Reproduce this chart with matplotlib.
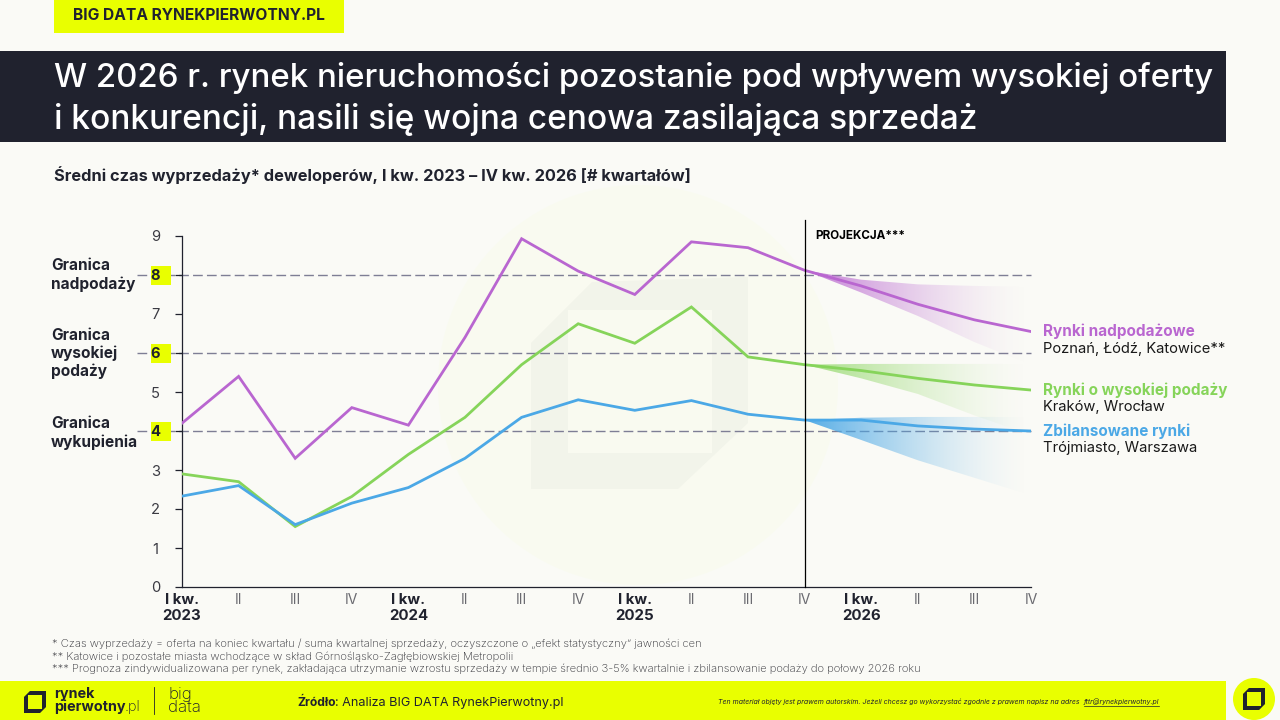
import numpy as np
import matplotlib
matplotlib.use('Agg')
import matplotlib.pyplot as plt
from matplotlib.patches import Polygon, Rectangle, Circle

plt.rcParams['font.family'] = ['Inter', 'DejaVu Sans']

kwartaly = ['I kw.\n2023', 'II', 'III', 'IV', 'I kw.\n2024', 'II', 'III', 'IV',
            'I kw.\n2025', 'II', 'III', 'IV', 'I kw.\n2026', 'II', 'III', 'IV']

nadpodazowe = [4.2, 5.4, 3.3, 4.6, 4.15, 6.4, 8.93, 8.1, 7.5, 8.85, 8.7, 8.12, 7.72, 7.25, 6.85, 6.55]
wysoka_podaz = [2.9, 2.7, 1.55, 2.32, 3.4, 4.35, 5.7, 6.75, 6.25, 7.18, 5.9, 5.7, 5.55, 5.35, 5.18, 5.05]
zbilansowane = [2.33, 2.6, 1.6, 2.15, 2.55, 3.3, 4.35, 4.8, 4.53, 4.78, 4.43, 4.28, 4.28, 4.13, 4.05, 4.0]

# widełki projekcji, IV kw. 2025 - IV kw. 2026
x_proj = [11, 12, 13, 14, 15]
nadpodazowe_gora = [8.12, 7.88, 7.76, 7.72, 7.7]
nadpodazowe_dol = [8.12, 7.55, 6.95, 6.28, 5.7]
wysoka_gora = [5.7, 5.72, 5.72, 5.72, 5.72]
wysoka_dol = [5.7, 5.35, 4.95, 4.4, 3.9]
zbilansowane_gora = [4.28, 4.34, 4.36, 4.36, 4.36]
zbilansowane_dol = [4.28, 3.77, 3.25, 2.8, 2.35]

granice = [8, 6, 4]

TLO = '#FAFAF6'
ZOLTY = '#E9FF00'
CIEMNY = '#20222E'
FIOLET = '#B966D0'
ZIELONY = '#86D45A'
NIEBIESKI = '#4BA8E6'
SZARY = '#3A3A42'

fig = plt.figure(figsize=(12.8, 7.2), dpi=100, facecolor=TLO)

# warstwa tla w pikselach
bg = fig.add_axes([0, 0, 1, 1], zorder=0)
bg.set_xlim(0, 1280)
bg.set_ylim(720, 0)
bg.axis('off')


def logo(ax, x0, y0, w, kolor, srodek, zorder=2):
    # kwadrat ze scietymi rogami
    c = w * 0.27
    t = w * 0.2
    ax.add_patch(Polygon([(x0, y0 + c), (x0 + c, y0), (x0 + w, y0), (x0 + w, y0 + w - c),
                          (x0 + w - c, y0 + w), (x0, y0 + w)], fc=kolor, ec='none', zorder=zorder))
    ax.add_patch(Rectangle((x0 + t, y0 + t), w - 2 * t, w - 2 * t, fc=srodek, ec='none', zorder=zorder))


# znak wodny
bg.add_patch(Circle((638, 385), 200, fc='#F9FAF0', ec='none', zorder=1))
bg.add_patch(Polygon([(531, 343), (592, 282), (748, 277), (748, 423), (678, 489), (531, 489)],
                     fc='#F2F4EA', ec='none', zorder=2))
bg.add_patch(Rectangle((568, 310), 144, 143, fc='#F9FAF0', ec='none', zorder=3))

# naglowek
bg.add_patch(Rectangle((54, 0), 290, 33, fc=ZOLTY, ec='none'))
bg.text(73, 16, 'BIG DATA RYNEKPIERWOTNY.PL', fontsize=11.2, fontweight='bold', color=CIEMNY, va='center')
bg.add_patch(Rectangle((0, 51), 1226, 91, fc=CIEMNY, ec='none'))
bg.text(54, 78, 'W 2026 r. rynek nieruchomości pozostanie pod wpływem wysokiej oferty',
        fontsize=23.8, fontweight='medium', color='white', va='center')
bg.text(54, 119, 'i konkurencji, nasili się wojna cenowa zasilająca sprzedaż',
        fontsize=24.1, fontweight='medium', color='white', va='center')
bg.text(54, 175, 'Średni czas wyprzedaży* deweloperów, I kw. 2023 – IV kw. 2026 [# kwartałów]',
        fontsize=11.8, fontweight='bold', color=CIEMNY, va='center')

# opisy granic po lewej
for y, tekst in [(266, 'Granica'), (284, 'nadpodaży'),
                 (335, 'Granica'), (353, 'wysokiej'), (371, 'podaży'),
                 (424, 'Granica'), (442, 'wykupienia')]:
    bg.text(51, y, tekst, fontsize=11.1, fontweight='bold', color=CIEMNY, va='center')

# przypisy
przypisy = ['* Czas wyprzedaży = oferta na koniec kwartału / suma kwartalnej sprzedaży, oczyszczone o „efekt statystyczny” jawności cen',
            '** Katowice i pozostałe miasta wchodzące w skład Górnośląsko-Zagłębiowskiej Metropolii',
            '*** Prognoza zindywidualizowana per rynek, zakładająca utrzymanie wzrostu sprzedaży w tempie średnio 3-5% kwartalnie i zbilansowanie podaży do połowy 2026 roku']
for y, tekst in zip([644, 657, 669], przypisy):
    bg.text(52, y, tekst, fontsize=8.1, fontweight='light', color='#2E2E34', va='center')

# stopka
bg.add_patch(Rectangle((0, 681), 1226, 39, fc=ZOLTY, ec='none'))
logo(bg, 24, 691, 22, CIEMNY, ZOLTY)
bg.text(54, 694, 'rynek', fontsize=10.4, fontweight='bold', color=CIEMNY, va='center')
bg.text(54, 707, 'pierwotny', fontsize=10.4, fontweight='bold', color=CIEMNY, va='center')
bg.text(125, 707, '.pl', fontsize=10.4, fontweight='light', color=CIEMNY, va='center')
bg.plot([154, 154], [687, 714], color=CIEMNY, lw=0.6)
bg.text(168, 694, 'big', fontsize=12.2, fontweight='light', color=CIEMNY, va='center')
bg.text(168, 707, 'data', fontsize=12.2, fontweight='light', color=CIEMNY, va='center')
bg.text(297, 703, 'Źródło', fontsize=8.7, fontweight='bold', color=CIEMNY, va='center')
bg.text(335, 703, ': Analiza BIG DATA RynekPierwotny.pl', fontsize=9.1, color=CIEMNY, va='center')
bg.text(718, 702, 'Ten materiał objęty jest prawem autorskim. Jeżeli chcesz go wykorzystać zgodnie z prawem napisz na adres',
        fontsize=5.0, style='italic', color=CIEMNY, va='center')
bg.text(1084, 702, 'fttr@rynekpierwotny.pl', fontsize=5.0, style='italic', color=CIEMNY, va='center')
bg.plot([1084, 1159], [705.5, 705.5], color=CIEMNY, lw=0.5)
bg.add_patch(Circle((1254, 699), 21, fc=ZOLTY, ec='none'))
logo(bg, 1243, 688, 22, CIEMNY, ZOLTY, zorder=3)

# wykres glowny
ax = fig.add_axes([182 / 1280, 1 - 587 / 720, (1031 - 182) / 1280, (587 - 236) / 720], zorder=1)
ax.patch.set_alpha(0)
x = np.arange(len(kwartaly))


def widelki(gora, dol, kolor, alfa):
    # gradient zanikajacy w prawo, przyciety do obszaru widelek
    rgba = np.ones((2, 200, 4))
    rgba[..., :3] = matplotlib.colors.to_rgb(kolor)
    rgba[..., 3] = alfa * np.linspace(1, 0, 200) ** 1.6
    im = ax.imshow(rgba, extent=(11, 15, 0, 9), aspect='auto', origin='lower', zorder=2)
    poly = ax.fill_between(x_proj, dol, gora, color='none')
    im.set_clip_path(poly.get_paths()[0], transform=ax.transData)


widelki(nadpodazowe_gora, nadpodazowe_dol, FIOLET, 0.85)
widelki(wysoka_gora, wysoka_dol, ZIELONY, 0.75)
widelki(zbilansowane_gora, zbilansowane_dol, NIEBIESKI, 0.95)
ax.set_xlim(0, 15)
ax.set_ylim(0, 9)

for g in granice:
    ax.plot([-0.8, 15], [g, g], color='#7E7E95', lw=1.0, dashes=(7, 3), clip_on=False, zorder=0.5)
    # zolte tlo pod etykieta granicy
    ax.add_patch(Rectangle((-0.55, g - 0.25), 0.36, 0.49, fc=ZOLTY, ec='none', clip_on=False, zorder=1))

ax.plot(x, nadpodazowe, color=FIOLET, lw=2.0, zorder=4, solid_joinstyle='miter')
ax.plot(x, wysoka_podaz, color=ZIELONY, lw=2.0, zorder=4, solid_joinstyle='miter')
ax.plot(x, zbilansowane, color=NIEBIESKI, lw=2.0, zorder=4, solid_joinstyle='miter')

ax.plot([11, 11], [0, 9.41], color='black', lw=0.9, clip_on=False, zorder=5)
ax.text(11.18, 9.01, 'PROJEKCJA***', fontsize=8.4, fontweight='bold', color='black', va='center')

for s in ['top', 'right']:
    ax.spines[s].set_visible(False)
for s in ['left', 'bottom']:
    ax.spines[s].set_linewidth(0.9)
    ax.spines[s].set_color(CIEMNY)

ax.set_xticks(x)
ax.set_xticklabels(kwartaly, fontsize=10.8, linespacing=1.2)
ax.tick_params(axis='x', length=0, pad=4)
for lab in ax.get_xticklabels():
    if 'kw' in lab.get_text():
        lab.set_fontweight('bold')
        lab.set_color(CIEMNY)
    else:
        lab.set_color('#6A6A70')
        lab.set_fontsize(10)

ax.set_yticks(range(10))
ax.tick_params(axis='y', length=5, width=0.9, color=CIEMNY, pad=14, labelsize=10.6, labelcolor=SZARY)
for lab in ax.get_yticklabels():
    lab.set_ha('center')
    if int(lab.get_text()) in granice:
        lab.set_fontweight('bold')
        lab.set_color(CIEMNY)

# opisy serii
for y, nazwa, kolor, miasta in [(nadpodazowe[-1], 'Rynki nadpodażowe', FIOLET, 'Poznań, Łódź, Katowice**'),
                                (wysoka_podaz[-1], 'Rynki o wysokiej podaży', ZIELONY, 'Kraków, Wrocław'),
                                (zbilansowane[-1], 'Zbilansowane rynki', NIEBIESKI, 'Trójmiasto, Warszawa')]:
    ax.annotate(nazwa, (15, y), xytext=(12, 0), textcoords='offset pixels', fontsize=11.0,
                fontweight='bold', color=kolor, va='center', annotation_clip=False)
    ax.annotate(miasta, (15, y), xytext=(12, -17), textcoords='offset pixels', fontsize=10.6,
                color='#1A1A1A', va='center', annotation_clip=False)

fig.savefig('out.png', dpi=100, facecolor=TLO)
